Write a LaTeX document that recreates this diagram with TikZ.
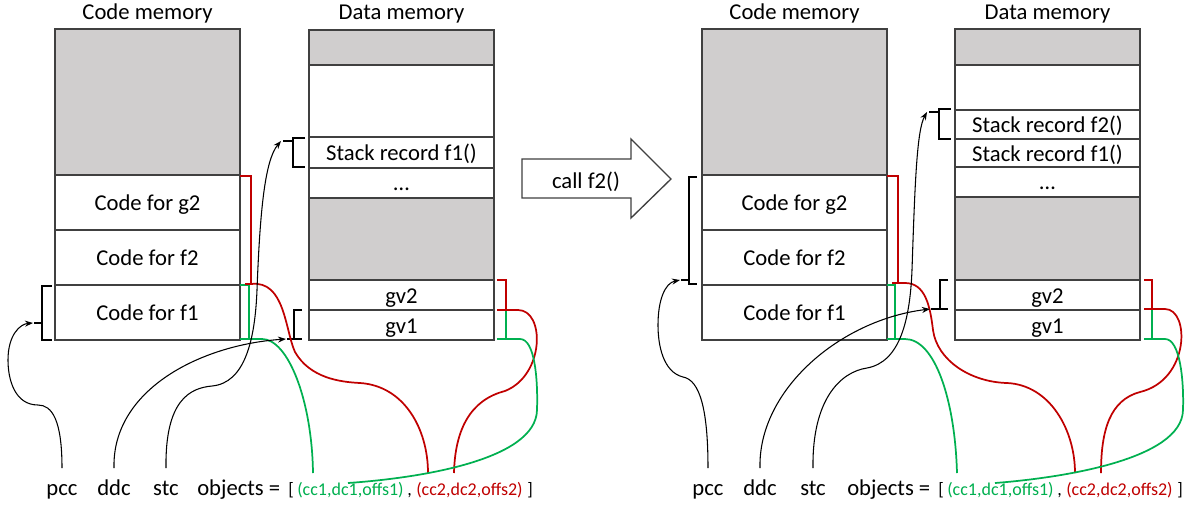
\documentclass[tikz,border=0pt]{standalone}
\usepackage{fontspec}
\setmainfont{Carlito}
\usetikzlibrary{arrows.meta,calc}
\definecolor{ogreen}{HTML}{00B050}
\definecolor{ored}{HTML}{C00000}
\definecolor{ogrey}{HTML}{D0CECE}
\definecolor{oborder}{HTML}{404040}
\begin{document}
\begin{tikzpicture}[x=0.75pt,y=-0.75pt,
  every node/.style={font=\fontsize{17}{20}\selectfont, inner sep=0pt},
  small/.style={font=\fontsize{13.5}{16}\selectfont},
  cellw/.style={draw=oborder, line width=1.2pt, fill=white},
  cellg/.style={draw=oborder, line width=1.2pt, fill=ogrey},
  lbl/.style={anchor=base},
  chain/.style={anchor=base west},
  brk/.style={line width=1.4pt, black},
  rbrk/.style={line width=1.4pt, ored},
  gbrk/.style={line width=1.4pt, ogreen},
  ptr/.style={line width=0.8pt, black, -{Stealth[length=6pt,width=4.5pt]}},
  rlink/.style={line width=1.3pt, ored},
  glink/.style={line width=1.3pt, ogreen},
]
\fill[white] (0,0) rectangle (1190,508);
\useasboundingbox (0,0) rectangle (1190,508);

% ================= LEFT PANEL =================
% code memory
\draw[cellg] (55,29) rectangle (240,175);
\draw[cellw] (55,175) rectangle (240,230);
\draw[cellw] (55,230) rectangle (240,285);
\draw[cellw] (55,285) rectangle (240,340);
\node[lbl] (lcm) at (147.5,19) {Code memory};
\node[lbl] (lg2) at (147.5,210.5) {Code for g2};
\node[lbl] (lf2) at (147.5,265.5) {Code for f2};
\node[lbl] (lf1) at (147.5,320.5) {Code for f1};
% data memory
\draw[cellg] (309,30) rectangle (494,65);
\draw[cellw] (309,65) rectangle (494,137);
\draw[cellw] (309,137) rectangle (494,168);
\draw[cellw] (309,168) rectangle (494,198);
\draw[cellg] (309,198) rectangle (494,280);
\draw[cellw] (309,280) rectangle (494,310);
\draw[cellw] (309,310) rectangle (494,340);
\node[lbl] (ldm) at (401.5,19) {Data memory};
\node[lbl] (lsf1) at (401.5,160.5) {Stack record f1()};
\node[lbl] (ldots) at (401.5,190) {…};
\node[lbl] (lgv2) at (401.5,303) {gv2};
\node[lbl] (lgv1) at (401.5,333) {gv1};

% bottom texts
\node[lbl] (lpcc) at (62,495) {pcc};
\node[lbl] (lddc) at (114,495) {ddc};
\node[lbl] (lstc) at (166,495) {stc};
\node[chain] (lobj) at (197,495) {objects =};
\node[chain, small] (lopen) at (288,495) {[};
\node[chain, small, text=ogreen] (lt1) at (297,495) {(cc1,dc1,offs1)};
\node[chain, small] (lcomma) at (407,495) {,};
\node[chain, small, text=ored] (lt2) at (416,495) {(cc2,dc2,offs2)};
\node[chain, small] (lclose) at (527,495) {]};

% black brackets
\draw[brk] (52,286) -- (42,286) -- (42,340) -- (52,340);
\draw[brk] (42,323) -- (34,323);
\coordinate (lpcct) at (33,323);
\draw[brk] (305,138) -- (293,138) -- (293,167) -- (305,167);
\draw[brk] (293,141) -- (283,141);
\coordinate (lstt) at (281,141);
\draw[brk] (302,310) -- (294,310) -- (294,339) -- (302,339);
\draw[brk] (294,339) -- (287,339);
\coordinate (lddt) at (286,339);

% coloured brackets
\draw[gbrk] (240,285) -- (249,285) -- (249,339) -- (240,339);
\draw[rbrk] (240,176) -- (251,176) -- (251,284) -- (245,284);
\draw[rbrk] (497,280) -- (506,280) -- (506,310);
\draw[gbrk] (506,310) -- (506,339) -- (497,339);

% coloured links
\draw[glink] (249,339) -- (262,339) .. controls (288,339) and (312,400) .. ($(lt1.base west)+(16,-22)$);
\draw[rlink] (251,284) .. controls (285,280) and (285,330) .. (295,352) .. controls (310,378) and (340,382) .. (360,383) .. controls (405,386) and (428,430) .. ($(lt2.base west)+(12,-22)$);
\draw[rlink] (497,310) -- (518,310) .. controls (545,310) and (545,375) .. (505,391) .. controls (470,400) and (455,430) .. ($(lt2.base west)+(38,-22)$);
\draw[glink] (506,339) -- (520,339) .. controls (535,339) and (538,380) .. (537,410) .. controls (536,460) and (420,478) .. ($(lt1.base west)+(51,-12)$);

% black pointers
\draw[ptr] ($(lpcc.base)+(0,-27)$) .. controls (62,420) and (52,405) .. (38,405) .. controls (15,405) and (8,380) .. (8,360) .. controls (8,335) and (20,324) .. (lpcct);
\draw[ptr] ($(lddc.base)+(0,-27)$) .. controls (112,390) and (200,345) .. (lddt);
\draw[ptr] ($(lstc.base)+(0,-27)$) .. controls (165,400) and (190,388) .. (212,386) .. controls (245,383) and (255,340) .. (257,290) .. controls (260,210) and (265,160) .. (lstt);

% ================= CALL ARROW =================
\draw[oborder, line width=1pt, fill=white] (522,159) -- (631,159) -- (631,139) -- (671,179) -- (631,218) -- (631,198) -- (522,198) -- cycle;
\node[lbl] (call) at (586,188) {call f2()};

% ================= RIGHT PANEL =================
\draw[cellg] (702,29) rectangle (887,175);
\draw[cellw] (702,175) rectangle (887,230);
\draw[cellw] (702,230) rectangle (887,285);
\draw[cellw] (702,285) rectangle (887,340);
\node[lbl] (rcm) at (794.5,19) {Code memory};
\node[lbl] (rg2) at (794.5,210.5) {Code for g2};
\node[lbl] (rf2) at (794.5,265.5) {Code for f2};
\node[lbl] (rf1) at (794.5,320.5) {Code for f1};

\draw[cellg] (955,29) rectangle (1140,65);
\draw[cellw] (955,65) rectangle (1140,110);
\draw[cellw] (955,110) rectangle (1140,139);
\draw[cellw] (955,139) rectangle (1140,167);
\draw[cellw] (955,167) rectangle (1140,197);
\draw[cellg] (955,197) rectangle (1140,280);
\draw[cellw] (955,280) rectangle (1140,310);
\draw[cellw] (955,310) rectangle (1140,340);
\node[lbl] (rdm) at (1047.5,19) {Data memory};
\node[lbl] (rsf2) at (1047.5,132.5) {Stack record f2()};
\node[lbl] (rsf1) at (1047.5,161) {Stack record f1()};
\node[lbl] (rdots) at (1047.5,189) {…};
\node[lbl] (rgv2) at (1047.5,303) {gv2};
\node[lbl] (rgv1) at (1047.5,333) {gv1};

\node[lbl] (rpcc) at (708,495) {pcc};
\node[lbl] (rddc) at (760,495) {ddc};
\node[lbl] (rstc) at (813,495) {stc};
\node[chain] (robj) at (847,495) {objects =};
\node[chain, small] (ropen) at (938,495) {[};
\node[chain, small, text=ogreen] (rt1) at (947,495) {(cc1,dc1,offs1)};
\node[chain, small] (rcomma) at (1057,495) {,};
\node[chain, small, text=ored] (rt2) at (1066,495) {(cc2,dc2,offs2)};
\node[chain, small] (rclose) at (1177,495) {]};

\draw[brk] (697,177) -- (689,177) -- (689,284) -- (697,284);
\draw[brk] (689,280) -- (681,280);
\coordinate (rpcct) at (680,280);
\draw[brk] (951,109) -- (939,109) -- (939,139) -- (951,139);
\draw[brk] (939,112) -- (929,112);
\coordinate (rstt) at (927,112);
\draw[brk] (948,280) -- (940,280) -- (940,309) -- (948,309);
\draw[brk] (940,309) -- (931,309);
\coordinate (rddt) at (930,309);

\draw[gbrk] (887,285) -- (895,285) -- (895,339) -- (887,339);
\draw[rbrk] (887,176) -- (898,176) -- (898,283) -- (892,283);
\draw[rbrk] (1144,280) -- (1152,280) -- (1152,309);
\draw[gbrk] (1152,309) -- (1152,339) -- (1144,339);

\draw[glink] (895,339) -- (905,339) .. controls (935,339) and (955,400) .. ($(rt1.base west)+(10,-22)$);
\draw[rlink] (898,283) -- (905,283) .. controls (925,283) and (930,305) .. (933,330) .. controls (937,360) and (970,382) .. (1007,383) .. controls (1050,385) and (1075,430) .. ($(rt2.base west)+(9,-22)$);
\draw[rlink] (1144,309) -- (1165,309) .. controls (1190,309) and (1190,380) .. (1140,392) .. controls (1110,400) and (1101,430) .. ($(rt2.base west)+(35,-22)$);
\draw[glink] (1152,339) -- (1165,339) .. controls (1180,339) and (1184,380) .. (1183,410) .. controls (1182,460) and (1060,478) .. ($(rt1.base west)+(48,-12)$);

\draw[ptr] ($(rpcc.base)+(0,-27)$) .. controls (708,410) and (700,380) .. (683,377) .. controls (663,372) and (658,345) .. (658,325) .. controls (658,300) and (665,283) .. (rpcct);
\draw[ptr] ($(rddc.base)+(0,-27)$) .. controls (758,390) and (840,320) .. (rddt);
\draw[ptr] ($(rstc.base)+(0,-27)$) .. controls (812,400) and (840,372) .. (867,368) .. controls (900,362) and (910,320) .. (912,270) .. controls (915,180) and (917,130) .. (rstt);
\end{tikzpicture}
\end{document}
